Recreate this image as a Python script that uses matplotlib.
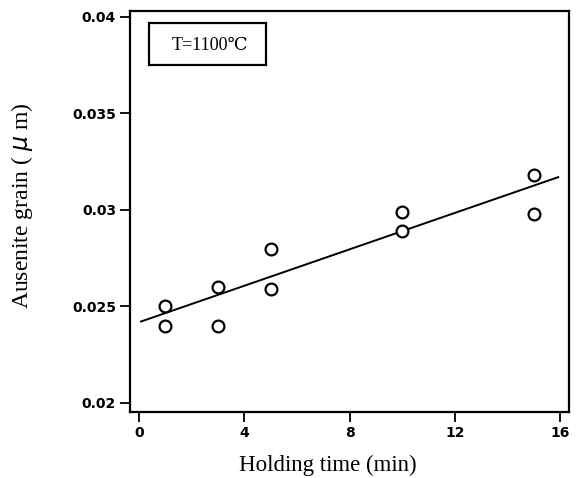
import matplotlib
matplotlib.use("Agg")
import matplotlib.pyplot as plt
from matplotlib.patches import Rectangle

# Data
holding_time = [1, 1, 3, 3, 5, 5, 10, 10, 15, 15]
grain_size = [0.0250, 0.0240, 0.0260, 0.0240, 0.0280, 0.0259, 0.0299, 0.0289, 0.0318, 0.0298]
fit_x = [0.08, 15.93]
fit_y = [0.02422, 0.03170]
x_ticks = [0, 4, 8, 12, 16]
x_tick_labels = ["0", "4", "8", "12", "16"]
y_ticks = [0.02, 0.025, 0.03, 0.035, 0.04]
y_tick_labels = ["0.02", "0.025", "0.03", "0.035", "0.04"]

serif = ["Liberation Serif", "DejaVu Serif", "DejaVu Sans"]

fig = plt.figure(figsize=(5.81, 4.78), dpi=100)
ax = fig.add_axes([130 / 581, 1 - 412 / 478, 439 / 581, 401 / 478])

ax.plot(fit_x, fit_y, color="black", lw=1.4)
ax.plot(holding_time, grain_size, linestyle="none", marker="o", markersize=8.5,
        markerfacecolor="white", markeredgecolor="black", markeredgewidth=1.6)

ax.set_xlim(-0.34, 16.34)
ax.set_ylim(0.01953, 0.04031)
ax.set_xticks(x_ticks)
ax.set_xticklabels(x_tick_labels)
ax.set_yticks(y_ticks)
ax.set_yticklabels(y_tick_labels)

for lab in ax.get_xticklabels() + ax.get_yticklabels():
    lab.set_fontfamily("DejaVu Sans")
    lab.set_fontweight("bold")
    lab.set_fontsize(10)

ax.tick_params(direction="out", length=7, width=1.3, color="black", pad=3)
for sp in ax.spines.values():
    sp.set_linewidth(1.6)

ax.set_xlabel("Holding time (min)", family=serif, fontsize=16.5)
ax.xaxis.set_label_coords(0.451, -(465 - 412) / 401)
ax.xaxis.label.set_va("center")
ax.set_ylabel("Ausenite grain ( $\\mu$ m)", family=serif, fontsize=17)
ax.yaxis.set_label_coords(-(130 - 22) / 439, 0.514)
ax.yaxis.label.set_va("center")

rect = Rectangle((0.0433, 0.865), 0.267, 0.105, transform=ax.transAxes,
                 fill=False, edgecolor="black", lw=1.6)
ax.add_patch(rect)
ax.text(0.182, 0.915, "T=1100℃", transform=ax.transAxes, ha="center", va="center",
        family=serif, fontsize=13)

fig.savefig("out.png", dpi=100)
